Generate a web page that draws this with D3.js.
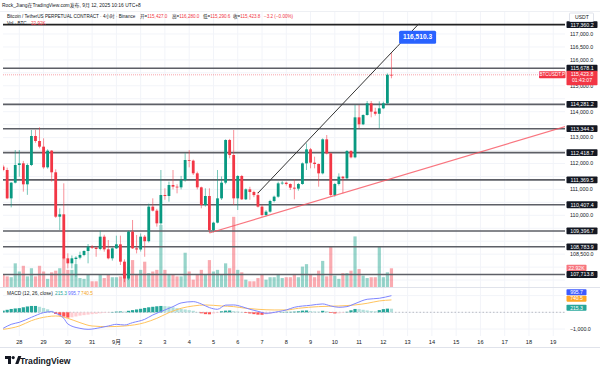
<!DOCTYPE html>
<html>
<head>
<meta charset="utf-8">
<script src="https://cdn.jsdelivr.net/npm/d3@7"></script>
<style>
  body { margin: 0; background: #fff; }
  svg text { font-family: "Liberation Sans", "Noto Sans CJK SC", sans-serif; }
</style>
</head>
<body>
<svg id="chart" width="600" height="372"></svg>
<script>
// ---- data (4h candles, index 0 = Aug 28 00:00) ----
const firstIndex = -4;
const candles = [  // [open, high, low, close]
  [111880, 111950, 111700, 111749], [111749, 111840, 110620, 110655], [110655, 111280, 110308, 111260], [111260, 112521, 111230, 111942],
  [111942, 112521, 111492, 112007], [112007, 112100, 110913, 111196], [111196, 112000, 110790, 111942], [111942, 113294, 111900, 113062],
  [113062, 113300, 112800, 112869], [112869, 113397, 112586, 112650], [112650, 112972, 111800, 111852], [111852, 112550, 111800, 112495],
  [112495, 112520, 111300, 111660], [111660, 111775, 109900, 109947], [109947, 110270, 109433, 110038], [110038, 111234, 108300, 108339],
  [108339, 108532, 107952, 108146], [108146, 108450, 107950, 108339], [108313, 108420, 107631, 108365], [108365, 108597, 108300, 108468],
  [108468, 108650, 108420, 108622], [108622, 108892, 108146, 108789], [108789, 108850, 108700, 108750], [108750, 108800, 108400, 108700],
  [108700, 109407, 108650, 109175], [109175, 109250, 108596, 108686], [108686, 109047, 108300, 108339], [108339, 108760, 108250, 108725],
  [108725, 109214, 108700, 108879], [108879, 109214, 108081, 108210], [108210, 108300, 107420, 107560], [107560, 109407, 107500, 109369],
  [109369, 109819, 108700, 108725], [108725, 109240, 108530, 108680], [108680, 109300, 108600, 109175], [109175, 109240, 108400, 109000],
  [109000, 110450, 108950, 110334], [110334, 110655, 110150, 110180], [110180, 110250, 109561, 109690], [109690, 111749, 109626, 110784],
  [110784, 111042, 110600, 110745], [110745, 111300, 110527, 111170], [111170, 111749, 111000, 111106], [111106, 111200, 110848, 111080],
  [111080, 111520, 111000, 111363], [111363, 112393, 111300, 112135], [112135, 112521, 111852, 112110], [112110, 112150, 111556, 111621],
  [111621, 111685, 111000, 111080], [111080, 111106, 110270, 110398], [110398, 111042, 110334, 110745], [110745, 111042, 109320, 109433],
  [109433, 109750, 109340, 109716], [109716, 111749, 109690, 110655], [110655, 111500, 110591, 111260], [111260, 112933, 111200, 112908],
  [112908, 112950, 112200, 112328], [112328, 113294, 110398, 110655], [110655, 111550, 110205, 111518], [111518, 111560, 110591, 110617],
  [110617, 111040, 110591, 111003], [111003, 111100, 110600, 110900], [110900, 110950, 110700, 110780], [110780, 110900, 110300, 110334],
  [110334, 110400, 109950, 110011], [110011, 110200, 109960, 110140], [110140, 110600, 110100, 110552], [110552, 110760, 110500, 110719],
  [110719, 111298, 110680, 111234], [111234, 111320, 111180, 111260], [111260, 111300, 111150, 111208], [111208, 111234, 110977, 111067],
  [111067, 111388, 110616, 111030], [111030, 111250, 110950, 111208], [111208, 112040, 111180, 112006], [112006, 112778, 111749, 112547],
  [112547, 112600, 111813, 112032], [112032, 112264, 111813, 111980], [111980, 112000, 111105, 111620], [111620, 112971, 111580, 112933],
  [112933, 113100, 112350, 112392], [112392, 112420, 110719, 110784], [110784, 111250, 110719, 111208], [111208, 111620, 111150, 111491],
  [111491, 111520, 110848, 111427], [111427, 112521, 111400, 112482], [112482, 112520, 112200, 112238], [112238, 114258, 112200, 113782],
  [113782, 114258, 113358, 113512], [113512, 113900, 113480, 113872], [113872, 114413, 113850, 114323], [114323, 114413, 113782, 114001],
  [114001, 114150, 113850, 113920], [113920, 114400, 113358, 114130], [114130, 114387, 114100, 114323], [114323, 115480, 114280, 115427],
  [115427.0, 116280.0, 115290.6, 115423.8]
];
// volume in thousands of BTC
const volumes = [15, 13, 12, 29, 19, 26, 13, 23, 13, 26, 19, 10, 18, 20, 23, 36, 21, 21, 28, 11, 10, 15, 7, 7, 15, 11, 15, 12, 12, 13,
  19, 25, 33, 15, 21, 31, 17, 19, 21, 76, 21, 15, 15, 13, 13, 42, 19, 9, 15, 21, 15, 33, 19, 21, 15, 29, 23, 86, 21, 18, 9, 7, 7, 11,
  15, 9, 12, 12, 16, 11, 12, 12, 16, 12, 25, 28, 15, 12, 20, 32, 13, 49, 14, 10, 17, 17, 20, 62, 22, 14, 11, 12, 12, 49, 12, 18, 22.92];
const macdLine = [[-4, -960], [-2, -720], [0, -600], [3, -300], [6, -20], [8, 40], [9, -60], [11, -360], [12, -700], [15, -960],
  [17, -1020], [20, -920], [22, -820], [24, -720], [26, -760], [28, -620], [31, -420], [33, -160], [36, 140], [38, 340], [40, 560],
  [43, 640], [45, 500], [47, 280], [49, 180], [51, 430], [53, 440], [55, 340], [57, 180], [59, 60], [61, -60], [64, 40], [66, 140],
  [68, 300], [72, 420], [75, 500], [77, 380], [79, 300], [81, 340], [83, 520], [86, 780], [89, 840], [92, 995.7]];
const signalLine = [[-4, -1020], [0, -820], [3, -500], [7, -260], [9, -220], [12, -360], [15, -620], [18, -820], [22, -860],
  [26, -820], [31, -620], [34, -360], [37, -20], [40, 240], [43, 380], [46, 440], [50, 380], [53, 340], [56, 240], [59, 180],
  [63, 140], [66, 140], [69, 240], [74, 340], [79, 380], [83, 440], [86, 540], [89, 680], [92, 740.5]];
const histogram = [100, 150, 200, 230, 250, 300, 350, 380, 380, 330, 260, 180, 90, -100, -180, -260, -320, -300, -250, -200,
  -170, -140, -110, -90, -60, -40, -20, 20, 40, 50, 40, 90, 130, 170, 210, 260, 300, 330, 360, 380, 370, 350, 300, 250, 200,
  170, 130, 90, 20, -60, -110, -120, -70, -30, 60, 100, 110, 70, 50, 20, -40, -70, -110, -140, -150, -120, -80, -50, -10, 20,
  30, 30, 40, 60, 100, 110, 70, 50, 40, 90, 60, -40, -70, -60, -30, 30, 120, 200, 190, 150, 110, 80, 60, 130, 190, 220, 215.3];

const levels = [117360.2, 115678.1, 114281.2, 113344.3, 112418.7, 111369.5, 110407.4, 109396.7, 108783.9, 107713.8];
const priceTicks = [107500, 108000, 108500, 109000, 109500, 110000, 110500, 111000, 111500, 112000, 112500, 113000,
  113500, 114000, 114500, 115000, 115500, 116000, 116500, 117000];
const macdTicks = [1000, 0, -1000];
const dayLabels = ['28', '29', '30', '31', '9月', '2', '3', '4', '5', '6', '7', '8', '9', '10', '11', '12', '13', '14', '15', '16', '17', '18', '19'];
const blackTrend = [[59, 110861], [93.4, 116510.3], [98.8, 117397]];  // last point = extension
const redTrend = [[47, 109316], [135.4, 113448]];
const lastPrice = 115423.8;

// ---- layout ----
const paneL = 3, paneR = 565, mainTop = 12, mainBot = 287, macdTop = 288, macdBot = 336;
const green = '#089981', red = '#f23645', ink = '#131722', grid = '#f2f4f9';

let svg = d3.select('#chart');
let x = d3.scaleLinear().domain([0, 90]).range([19.3, 383.35]);
let y = d3.scaleLinear().domain([107232, 117849]).range([mainBot, mainTop]);
let yv = d3.scaleLinear().domain([0, 100]).range([mainBot, mainBot - 81.6]);
let ym = d3.scaleLinear().domain([-1419, 1455]).range([macdBot, macdTop]);
const fmt = d3.format(',.1f');

let bars = candles.map((c, j) => ({i: j + firstIndex, o: c[0], h: c[1], l: c[2], c: c[3], v: volumes[j], hist: histogram[j]}));

svg.append('defs').append('clipPath').attr('id', 'clipMain')
  .append('rect').attr('x', paneL).attr('y', mainTop).attr('width', paneR - paneL).attr('height', mainBot - mainTop);
svg.select('defs').append('clipPath').attr('id', 'clipMacd')
  .append('rect').attr('x', paneL).attr('y', macdTop).attr('width', paneR - paneL).attr('height', macdBot - macdTop);

// grid
let g = svg.append('g');
g.selectAll('.vg').data(dayLabels).join('line')
  .attr('x1', (d, k) => x(k * 6)).attr('x2', (d, k) => x(k * 6))
  .attr('y1', mainTop).attr('y2', macdBot).attr('stroke', grid).attr('stroke-width', 1);
g.selectAll('.hg').data(priceTicks).join('line')
  .attr('x1', paneL).attr('x2', paneR).attr('y1', d => y(d)).attr('y2', d => y(d))
  .attr('stroke', grid);
g.selectAll('.mg').data(macdTicks).join('line')
  .attr('x1', paneL).attr('x2', paneR).attr('y1', d => ym(d)).attr('y2', d => ym(d))
  .attr('stroke', grid);

// pane separators
svg.append('line').attr('x1', 0).attr('x2', 600).attr('y1', mainBot + 0.5).attr('y2', mainBot + 0.5).attr('stroke', '#e0e3eb');
svg.append('line').attr('x1', 0).attr('x2', 600).attr('y1', 347.5).attr('y2', 347.5).attr('stroke', '#e0e3eb');
svg.append('line').attr('x1', 0).attr('x2', 600).attr('y1', mainTop - 0.5).attr('y2', mainTop - 0.5).attr('stroke', '#eef0f4');

let main = svg.append('g').attr('clip-path', 'url(#clipMain)');

// volume overlay
main.append('g').selectAll('rect').data(bars).join('rect')
  .attr('x', d => x(d.i) - 1.6).attr('width', 3.2)
  .attr('y', d => yv(d.v)).attr('height', d => yv(0) - yv(d.v))
  .attr('fill', d => d.c >= d.o ? green : red).attr('opacity', 0.42);

// horizontal levels
main.append('g').selectAll('line').data(levels).join('line')
  .attr('x1', paneL).attr('x2', paneR).attr('y1', d => y(d)).attr('y2', d => y(d))
  .attr('stroke', (d, k) => k === 0 ? '#222' : '#5d5f66').attr('stroke-width', 1.6);

// last price line
main.append('line').attr('x1', paneL).attr('x2', paneR).attr('y1', y(lastPrice)).attr('y2', y(lastPrice))
  .attr('stroke', red).attr('stroke-opacity', 0.45).attr('stroke-dasharray', '1,1');

// candles
let cg = main.append('g');
cg.selectAll('.wick').data(bars).join('line')
  .attr('x1', d => x(d.i)).attr('x2', d => x(d.i))
  .attr('y1', d => y(d.h)).attr('y2', d => y(d.l))
  .attr('stroke', d => d.c >= d.o ? green : red).attr('stroke-opacity', 0.55).attr('stroke-width', 1);
cg.selectAll('.body').data(bars).join('rect')
  .attr('x', d => x(d.i) - 1.4).attr('width', 2.8)
  .attr('y', d => y(Math.max(d.o, d.c)))
  .attr('height', d => Math.max(0.8, Math.abs(y(d.o) - y(d.c))))
  .attr('fill', d => d.c >= d.o ? green : red);

// trend lines
let tl = d3.line().x(d => x(d[0])).y(d => y(d[1]));
main.append('path').attr('d', tl(blackTrend)).attr('fill', 'none').attr('stroke', '#333').attr('stroke-width', 1);
main.append('path').attr('d', tl(redTrend)).attr('fill', 'none').attr('stroke', '#f7525f').attr('stroke-opacity', 0.8).attr('stroke-width', 1.2);

// trend line price label
let ex = x(blackTrend[1][0]), ey = y(blackTrend[1][1]);
svg.append('rect').attr('x', ex + 2).attr('y', ey - 16).attr('width', 37).attr('height', 13).attr('rx', 1.5).attr('fill', '#2962ff');
svg.append('text').attr('x', ex + 20.5).attr('y', ey - 9.5).attr('dy', '0.35em').attr('text-anchor', 'middle')
  .attr('font-size', 6.6).attr('font-weight', 'bold').attr('fill', '#fff').text(fmt(blackTrend[1][1]));

// ---- MACD pane ----
let mp = svg.append('g').attr('clip-path', 'url(#clipMacd)');
mp.append('line').attr('x1', paneL).attr('x2', paneR).attr('y1', ym(0)).attr('y2', ym(0))
  .attr('stroke', '#9598a1').attr('stroke-opacity', 0.6).attr('stroke-dasharray', '1.5,2');
mp.append('g').selectAll('rect').data(bars).join('rect')
  .attr('x', d => x(d.i) - 1.6).attr('width', 3.2)
  .attr('y', d => Math.min(ym(0), ym(d.hist))).attr('height', d => Math.abs(ym(d.hist) - ym(0)))
  .attr('fill', (d, j) => {
    let prev = j > 0 ? bars[j - 1].hist : d.hist;
    if (d.hist >= 0) return d.hist >= prev ? '#26a69a' : '#b2dfdb';
    return d.hist < prev ? '#ff5252' : '#ffcdd2';
  });
let ml = d3.line().x(d => x(d[0])).y(d => ym(d[1])).curve(d3.curveMonotoneX);
mp.append('path').attr('d', ml(signalLine)).attr('fill', 'none').attr('stroke', '#ffc45e').attr('stroke-width', 1);
mp.append('path').attr('d', ml(macdLine)).attr('fill', 'none').attr('stroke', '#7f86ff').attr('stroke-width', 1);

// ---- right axis ----
let lastVol = volumes[volumes.length - 1];
let lastHist = histogram[histogram.length - 1];
let lastMacd = macdLine[macdLine.length - 1][1], lastSig = signalLine[signalLine.length - 1][1];
// tick labels that sit under a label box are hidden, as TradingView does
let boxYs = levels.map(v => y(v)).concat([y(lastPrice) + 3.5, yv(lastVol)]);
let ax = svg.append('g').attr('font-size', 5.3).attr('fill', ink);
ax.selectAll('.pt').data(priceTicks.filter(p => boxYs.every(b => Math.abs(y(p) - b) > 6.2))).join('text')
  .attr('x', 570).attr('y', d => y(d)).attr('dy', '0.35em').text(d => fmt(d));
let mBoxYs = [ym(lastMacd) - 3.4, ym(lastSig) - 1.3, ym(lastHist) - 0.9];
ax.selectAll('.mt').data(macdTicks.filter(m => mBoxYs.every(b => Math.abs(ym(m) - b) > 5.5))).join('text')
  .attr('x', 570).attr('y', d => ym(d)).attr('dy', '0.35em').text(d => fmt(d));

// level labels
let lg = svg.append('g');
levels.forEach(v => {
  lg.append('rect').attr('x', 566.5).attr('y', y(v) - 3.4).attr('width', 31).attr('height', 6.8).attr('rx', 0.8).attr('fill', ink);
  lg.append('text').attr('x', 582).attr('y', y(v)).attr('dy', '0.35em').attr('text-anchor', 'middle')
    .attr('font-size', 5.3).attr('fill', '#fff').text(fmt(v));
});

// last price label
let lp = y(lastPrice);
svg.append('rect').attr('x', 566.5).attr('y', lp - 4).attr('width', 31).attr('height', 14.5).attr('rx', 0.8).attr('fill', red);
svg.append('text').attr('x', 582).attr('y', lp - 0.4).attr('dy', '0.35em').attr('text-anchor', 'middle')
  .attr('font-size', 5.2).attr('fill', '#fff').text(fmt(lastPrice));
svg.append('text').attr('x', 582).attr('y', lp + 5.8).attr('dy', '0.35em').attr('text-anchor', 'middle')
  .attr('font-size', 5.2).attr('fill', '#fff').text('01:43:07');
svg.append('rect').attr('x', 539).attr('y', lp - 3.5).attr('width', 26.5).attr('height', 7).attr('rx', 0.8).attr('fill', red);
svg.append('text').attr('x', 552.2).attr('y', lp).attr('dy', '0.35em').attr('text-anchor', 'middle')
  .attr('font-size', 4.6).attr('fill', '#fff').text('BTCUSDT.P');

// volume label
svg.append('rect').attr('x', 566.5).attr('y', yv(lastVol) - 3.6).attr('width', 20).attr('height', 6.4).attr('rx', 0.8).attr('fill', '#f7767e');
svg.append('text').attr('x', 576.5).attr('y', yv(lastVol) - 0.4).attr('dy', '0.35em').attr('text-anchor', 'middle')
  .attr('font-size', 5.1).attr('fill', '#fff').text(lastVol.toFixed(2) + 'K');

// MACD value labels (stacked like TradingView does)
[[lastMacd, '#3d5afe', -3.4], [lastSig, '#ffa726', -1.3], [lastHist, '#26a69a', -0.9]].forEach(([v, col, off]) => {
  svg.append('rect').attr('x', 566.5).attr('y', ym(v) + off - 3).attr('width', 20).attr('height', 6).attr('rx', 0.8).attr('fill', col);
  svg.append('text').attr('x', 576.5).attr('y', ym(v) + off).attr('dy', '0.35em').attr('text-anchor', 'middle')
    .attr('font-size', 5.1).attr('fill', '#fff').text(v.toFixed(1));
});

// USDT box
svg.append('rect').attr('x', 569.5).attr('y', 13).attr('width', 24).attr('height', 8.5).attr('rx', 1)
  .attr('fill', '#fff').attr('stroke', '#e0e3eb');
svg.append('text').attr('x', 575).attr('y', 17.3).attr('dy', '0.35em').attr('font-size', 5.1).attr('fill', ink).text('USDT');

// ---- time axis ----
svg.append('g').selectAll('text').data(dayLabels).join('text')
  .attr('x', (d, k) => x(k * 6)).attr('y', 342).attr('dy', '0.35em').attr('text-anchor', 'middle')
  .attr('font-size', 5.6).attr('fill', ink).text(d => d);

// ---- legends ----
svg.append('text').attr('x', 2).attr('y', 5).attr('dy', '0.35em').attr('font-size', 4.9).attr('fill', ink)
  .text('Rock_Jiang在TradingView.com发布, 9月 12, 2025 10:16 UTC+8');

let head = svg.append('g').attr('font-size', 4.6);
head.append('text').attr('x', 7).attr('y', 16.3).attr('dy', '0.35em').attr('fill', ink)
  .text('Bitcoin / TetherUS PERPETUAL CONTRACT · 4小时 · Binance');
const last = candles[candles.length - 1];
const ohlcLabels = [['开', last[0], 140], ['高', last[1], 172], ['低', last[2], 203], ['收', last[3], 233]];
ohlcLabels.forEach(([k, v, px]) => {
  let t = head.append('text').attr('x', px).attr('y', 16.3).attr('dy', '0.35em');
  t.append('tspan').attr('fill', ink).text(k + '=');
  t.append('tspan').attr('fill', red).text(fmt(v));
});
head.append('text').attr('x', 264).attr('y', 16.3).attr('dy', '0.35em').attr('fill', red)
  .text(fmt(last[3] - last[0]).replace('-', '−') + ' (−0.00%)');
head.append('text').attr('x', 7).attr('y', 23.3).attr('dy', '0.35em').attr('fill', ink).text('Vol · BTC');
head.append('text').attr('x', 31).attr('y', 23.3).attr('dy', '0.35em').attr('fill', red).text(lastVol.toFixed(2) + 'K');

let mh = svg.append('text').attr('x', 7).attr('y', 293.3).attr('dy', '0.35em').attr('font-size', 4.8);
mh.append('tspan').attr('fill', ink).text('MACD (12, 26, close)');
mh.append('tspan').attr('x', 55).attr('fill', '#26a69a').text(lastHist.toFixed(1));
mh.append('tspan').attr('x', 68).attr('fill', '#5c6bff').text(lastMacd.toFixed(1));
mh.append('tspan').attr('x', 81).attr('fill', '#f5a623').text(lastSig.toFixed(1));

// ---- TradingView logo ----
let logo = svg.append('g').attr('fill', ink);
logo.append('path').attr('d', 'M5,356 h6 v8 h-3 v-5 h-3 z');
logo.append('circle').attr('cx', 13.2).attr('cy', 357.6).attr('r', 1.6);
logo.append('path').attr('d', 'M15.2,364 l3,-8 h3.2 l-3,8 z');
svg.append('text').attr('x', 20).attr('y', 363.8).attr('font-size', 8.6).attr('font-weight', 'bold')
  .attr('fill', ink).text('TradingView');
</script>
</body>
</html>
